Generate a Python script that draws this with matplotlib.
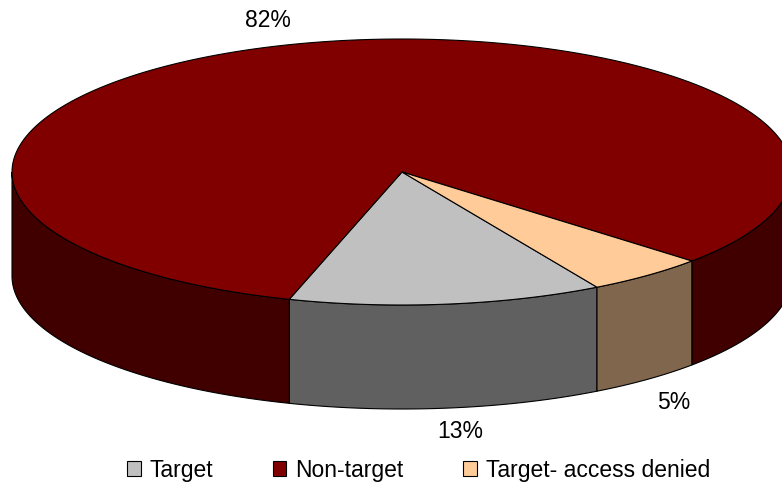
import numpy as np
import matplotlib
matplotlib.use("Agg")
import matplotlib.pyplot as plt
from matplotlib.patches import Polygon, Patch

# Share of sites by category
categories = ["Target", "Non-target", "Target- access denied"]
shares = [13, 82, 5]
top_colors = ["#C0C0C0", "#800000", "#FFCC99"]

# Layout of the tilted pie (pixel space)
W, H = 782, 483
CX, CY = 402, 172          # centre of the top face
RX, RY = 390, 133          # ellipse radii of the top face
DEPTH = 104                # thickness of the disc
START = -60.0              # first slice begins here and runs clockwise
label_xy = [(460.5, 431), (268, 20.5), (673.5, 402.5)]

plt.rcParams["font.family"] = ["Liberation Sans", "DejaVu Sans"]
FS = 16.5

fig = plt.figure(figsize=(W / 100, H / 100), dpi=100)
ax = fig.add_axes([0, 0, 1, 1])
ax.set_xlim(0, W)
ax.set_ylim(H, 0)
ax.axis("off")


def arc(t0, t1, n=200):
    t = np.radians(np.linspace(t0, t1, n))
    return CX + RX * np.cos(t), CY - RY * np.sin(t)


def darker(c, f=0.5):
    r, g, b = matplotlib.colors.to_rgb(c)
    return (r * f, g * f, b * f)


total = float(sum(shares))
spans = []
theta = START
for v in shares:
    sweep = 360.0 * v / total
    spans.append((theta - sweep, theta))   # (low, high) in degrees
    theta -= sweep

# outer walls: only the front half (sin < 0) of each slice is visible
for (lo, hi), col in zip(spans, top_colors):
    for k in range(-3, 3):
        flo, fhi = -180 + 360 * k, 0 + 360 * k
        a0, a1 = max(lo, flo), min(hi, fhi)
        if a1 - a0 <= 1e-6:
            continue
        x, y = arc(a0, a1)
        pts = np.column_stack([np.r_[x, x[::-1]], np.r_[y, (y + DEPTH)[::-1]]])
        ax.add_patch(Polygon(pts, closed=True, facecolor=darker(col),
                             edgecolor="black", linewidth=0.8, zorder=1))

# top faces
for (lo, hi), col in zip(spans, top_colors):
    x, y = arc(lo, hi)
    pts = np.column_stack([np.r_[CX, x], np.r_[CY, y]])
    ax.add_patch(Polygon(pts, closed=True, facecolor=col,
                         edgecolor="black", linewidth=0.8, zorder=2))

# percentage labels
for v, (lx, ly) in zip(shares, label_xy):
    ax.text(lx, ly, f"{100 * v / total:.0f}%", ha="center", va="center",
            fontsize=FS, color="black", zorder=5)

handles = [Patch(facecolor=c, edgecolor="black", linewidth=0.8) for c in top_colors]
fig.legend(handles, categories, loc="center", ncol=3, frameon=False,
           bbox_to_anchor=(418.5 / W, 1 - 470 / H), fontsize=FS,
           handlelength=0.59, handleheight=0.6, handletextpad=0.39,
           columnspacing=2.6, borderpad=0, borderaxespad=0)

fig.savefig("out.png", dpi=100)
